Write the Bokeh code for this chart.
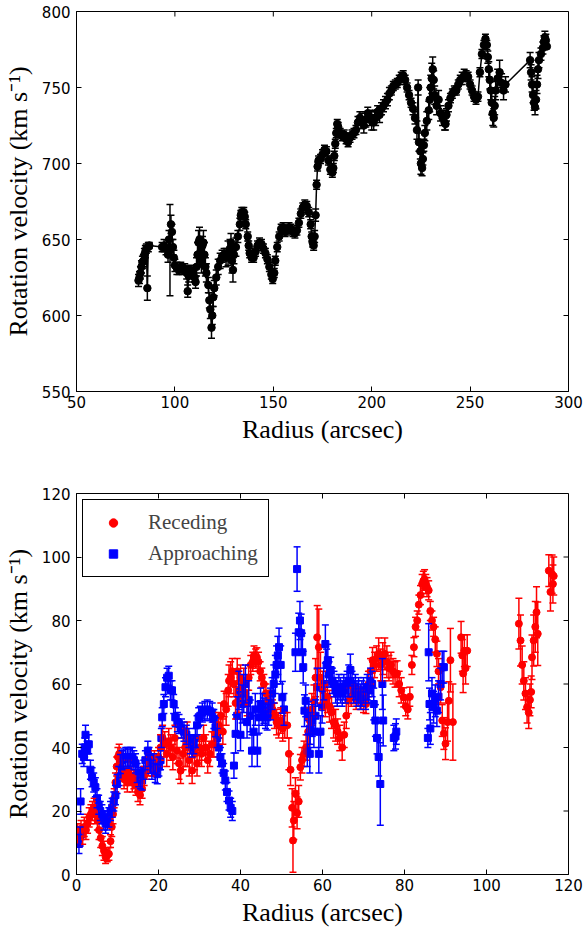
from bokeh.plotting import figure
from bokeh.models import (ColumnDataSource, Whisker, TeeHead, FixedTicker, Range1d, Legend, LegendItem)
from bokeh.layouts import column
from bokeh.embed import file_html
from bokeh.resources import INLINE

# ---------------- data: top panel ----------------
top_x = [81.5, 82, 82.5, 83, 83.5, 84, 84.5, 85, 85.5, 86, 86.5, 87,
         93.5, 94.5, 95.5, 96.5, 97, 97.5, 98, 98.5, 99, 99.5, 100, 101, 102, 103, 104, 105, 106,
         106.5, 107, 108, 109, 110, 110.5, 111, 111.5, 112, 112.5, 113, 113.5, 114, 114.5, 115,
         115.5, 116, 117, 117.5, 118, 118.6, 119, 119.5, 120, 121, 122, 123, 124, 125, 126, 127,
         128, 128.5, 129, 129.5, 130, 131, 132, 133, 133.5, 134, 135, 135.5, 136, 137, 137.5, 138,
         139, 140, 141, 142, 143, 144, 145, 146, 147, 148, 149, 149.7, 150.5, 151, 152, 153, 154,
         155, 156, 157, 158, 159, 160, 161, 162, 163, 164, 165, 166, 167, 168, 169, 169.5, 170,
         170.5, 171, 171.5, 172, 172.5, 173, 174, 175, 176, 177, 178, 179, 180, 180.5, 181, 181.5,
         182, 182.5, 183, 184, 185, 186, 187, 188, 189, 190, 191, 192, 193, 194, 195, 196, 197,
         198, 199, 200, 201, 202, 203, 204, 205, 206, 207, 208, 209, 210, 211, 212, 213, 214, 215,
         216, 217, 218, 219, 220, 221, 222, 223, 223.6, 224, 224.7, 225, 225.6, 226, 226.5, 227,
         228, 229, 229.5, 230, 230.5, 231, 231.5, 232, 233, 234, 235, 236, 237, 237.5, 238, 239,
         240, 241, 242, 243, 244, 245, 246, 247, 248, 249, 250, 251, 252, 253, 254, 255, 256, 257,
         257.8, 258.5, 259, 259.5, 260, 260.5, 261, 261.5, 262, 262.5, 263, 264, 265, 266, 267, 268,
         280.5, 281, 281.5, 282, 282.5, 283, 283.5, 284, 284.5, 285, 286, 287, 287.5, 288, 288.5, 289]
top_y = [623, 625, 628, 632, 635, 636, 640, 642, 644, 618, 645, 646,
         645, 646, 644, 640, 650, 643, 660, 655, 645, 638, 633, 631, 630, 632, 630, 631, 628,
         616, 626, 630, 628, 625, 622, 632, 640, 648, 650, 642, 636, 646, 648, 640,
         632, 628, 620, 610, 604, 592, 600, 612, 618, 625, 632, 636, 639, 640, 638, 641,
         644, 648, 636, 630, 640, 645, 652, 660, 666, 668, 668, 665, 660, 652, 646, 641,
         638, 638, 642, 646, 648, 647, 644, 641, 637, 632, 627, 624, 628, 636, 645, 652, 657,
         658, 655, 656, 658, 657, 655, 654, 656, 661, 667, 671, 673, 672, 668, 660, 652, 648,
         646, 652, 666, 686, 698, 702, 703, 706, 709, 708, 702, 696, 694, 697, 705, 713,
         720, 726, 724, 720, 718, 719, 716, 714, 717, 719, 720, 722, 727, 730, 728, 725, 729,
         733, 730, 728, 727, 730, 734, 732, 736, 738, 740, 742, 746, 748, 751, 752, 753, 755, 757,
         758, 755, 750, 745, 740, 736, 730, 722, 750, 714, 708, 700, 697, 703, 712, 720,
         728, 735, 742, 750, 756, 762, 755, 745, 738, 742, 733, 730, 727, 726, 732, 738,
         743, 746, 748, 748, 752, 755, 756, 758, 758, 757, 752, 748, 744, 742, 744, 760, 772, 778,
         782, 778, 770, 762, 755, 748, 740, 733, 730, 738, 748, 756, 760, 753, 748, 752,
         768, 760, 752, 745, 740, 737, 742, 752, 762, 768, 772, 776, 780, 783, 781, 777]
top_err = [4, 4, 4, 4, 4, 4, 4, 4, 3, 8, 3, 2,
           3, 4, 4, 5, 6, 30, 6, 5, 5, 5, 4, 4, 3, 3, 3, 3, 4,
           4, 4, 3, 3, 3, 4, 6, 8, 8, 8, 10, 8, 6, 8, 8,
           6, 6, 5, 5, 6, 7, 6, 6, 5, 5, 5, 5, 4, 4, 6, 8,
           6, 6, 8, 8, 6, 6, 4, 4, 3, 3, 3, 3, 3, 3, 3, 3,
           3, 3, 3, 3, 3, 3, 3, 3, 3, 3, 3, 3, 3, 3, 3, 3, 3,
           3, 3, 3, 3, 3, 3, 3, 3, 3, 3, 3, 3, 3, 3, 3, 3, 3,
           3, 4, 4, 3, 3, 3, 3, 3, 3, 3, 3, 3, 3, 3, 3, 3,
           3, 3, 3, 3, 3, 3, 3, 3, 3, 3, 3, 3, 4, 4, 5, 5, 5,
           4, 5, 6, 5, 5, 4, 5, 4, 4, 4, 4, 4, 3, 3, 3, 3, 3,
           3, 3, 3, 3, 3, 3, 4, 4, 6, 5, 6, 5, 7, 5, 4, 4,
           5, 6, 6, 8, 8, 10, 8, 6, 6, 6, 6, 5, 5, 5, 4, 4,
           4, 3, 3, 3, 3, 3, 3, 4, 4, 3, 3, 3, 3, 3, 3, 3, 3, 3,
           3, 3, 3, 4, 5, 6, 6, 8, 8, 6, 6, 6, 6, 8, 6, 6,
           5, 5, 5, 5, 5, 5, 5, 6, 6, 6, 5, 4, 4, 4, 4, 4]

top_xticks = [50, 100, 150, 200, 250, 300]
top_yticks = [550, 600, 650, 700, 750, 800]

# ---------------- data: bottom panel ----------------
rec_x = [0.3, 0.7, 1.1, 1.5, 1.9, 2.3, 2.7, 3.1, 3.5, 3.9, 4.3, 4.7, 5.1, 5.5, 5.9, 6.3, 6.7, 7.1,
         7.5, 7.9, 8.3, 8.6, 8.9, 9.2, 9.5, 9.8, 10.1, 10.4, 10.8, 11.2, 11.6, 12.0, 12.4, 12.8,
         13.2, 13.6, 14.0, 14.5, 15.0, 15.5, 16.0, 16.5, 17.0, 17.5, 18.0, 18.5, 19.0, 19.5, 20.0,
         20.5, 21.0, 21.5, 22.0, 22.5, 23.0, 23.5, 24.0, 24.5, 25.0, 25.4, 26.0, 26.5, 27.0, 27.5,
         28.2, 28.8, 29.4, 30.0, 30.5, 31.0, 31.5, 32.0, 32.5, 33.0, 33.5, 34.0, 34.7, 35.2, 35.7,
         36.0, 36.5, 37.0, 37.2, 37.6, 38.0, 38.4, 38.8, 39.2, 39.6, 40.0, 40.4, 40.8, 41.2, 41.6,
         42.0, 42.5, 43.0, 43.3, 43.7, 44.0, 44.4, 44.8, 45.2, 45.7, 46.2, 46.7, 47.3, 47.8, 48.3,
         48.8, 49.3, 49.8, 50.3, 50.8, 51.4, 51.8, 52.2, 52.6, 52.8, 53.0, 53.4, 53.8, 54.2, 54.6,
         55.0, 55.5, 56.0, 56.5, 56.9, 57.4, 57.9, 58.3, 58.7, 59.1, 59.5, 60.1, 60.7, 61.2, 61.7,
         62.2, 62.7, 63.2, 63.7, 64.2, 64.8, 65.3, 65.8, 66.3, 67.0, 67.6, 68.2, 68.8, 69.4, 70.0,
         70.6, 71.2, 71.7, 72.2, 72.7, 73.2, 73.7, 74.2, 74.7, 75.2, 75.7, 76.2, 76.7, 77.2, 77.7,
         78.2, 78.7, 79.2, 79.8, 80.3, 80.8, 81.3, 81.8, 82.3, 82.7, 83.1, 83.5, 83.9, 84.3, 84.6,
         84.9, 85.2, 85.5, 85.9, 86.3, 86.7, 87.1, 87.5, 87.9, 88.3, 88.8, 89.2, 89.6, 90.0, 90.5,
         90.8, 91.2, 91.8, 93.8, 94.1, 94.3, 94.6, 94.9, 95.3, 107.9, 108.3, 108.7, 109.1, 109.5,
         109.9, 110.3, 110.6, 110.9, 111.1, 111.5, 111.9, 112.2, 112.5, 115.2, 115.6, 116.0, 116.2,
         116.4]
rec_y = [13, 12, 14, 12.5, 15, 14, 16, 18, 19, 20, 21, 19, 17, 14, 11.5, 9, 7.5, 5.5,
         6, 6.5, 10.5, 15, 19, 24, 29, 34, 37, 38, 36, 33, 30, 31, 29, 33,
         31, 29, 30, 28, 26, 25, 27, 31, 33, 34, 35, 34, 36, 35, 37,
         40, 43, 41, 38, 42, 40, 37, 43, 39, 35, 32.7, 38, 40, 41, 36,
         32.7, 38, 35, 40, 38, 43, 40, 36, 38, 41, 41, 44, 47, 50, 45,
         53.7, 52, 58, 61, 62, 64, 60, 54, 64, 56, 62, 58, 61, 57, 54,
         62, 66, 67, 69, 68, 68.4, 67, 64, 62, 60, 57, 55, 53.7, 52, 50,
         48, 47, 48.5, 46, 47, 47, 38, 33, 21, 10.7, 17, 25.5, 19.4, 23, 33.8,
         36, 38, 40, 45, 48.5, 52, 54.7, 62, 74.7, 71.6, 62, 58, 54.7, 56, 53,
         51, 48, 47, 45, 43, 40, 44, 50, 54.7, 56, 56.8, 55, 56, 55, 54,
         53.7, 60, 64, 67.5, 66, 68, 69.5, 66, 68, 69.5, 67, 65, 66, 64, 63,
         63.3, 60, 58, 55.8, 53, 52, 56, 66, 71.6, 78, 80, 85, 88, 91.5, 92.5,
         93, 91.5, 90.5, 89.5, 83, 80, 78, 74, 69.5, 64, 59, 48.5, 44.4, 41.2, 48,
         54.7, 67.5, 48, 74.7, 69, 63.3, 70.5, 65, 70.5, 79, 73.7, 66, 61, 57,
         52.7, 51, 55, 57.5, 68.4, 73.7, 78, 82.6, 75.8, 95.7, 89, 94.6, 91.5,
         94]
rec_err = [3, 3, 3, 3, 3, 3, 3, 3, 3, 3, 3, 3, 3, 3, 3, 3, 3, 2,
           2, 2, 2, 3, 3, 3, 3, 3, 3, 3, 3, 3, 3, 3, 3, 3,
           3, 3, 3, 3, 3, 3, 3, 3, 3, 3, 3, 3, 3, 3, 3,
           4, 4, 4, 4, 4, 4, 4, 4, 4, 5, 4, 5, 6, 7, 5,
           4, 5, 4, 4, 4, 4, 4, 4, 4, 4, 4, 4, 4, 4, 4,
           4, 5, 5, 5, 5, 4, 4, 5, 4, 5, 4, 4, 4, 4, 4,
           4, 3, 3, 3, 3, 3, 3, 3, 3, 3, 3, 3, 3, 3, 4,
           4, 4, 4, 4, 4, 4, 5, 5, 6, 10, 6, 5, 5, 5, 4,
           4, 4, 4, 4, 4, 5, 5, 6, 10, 12, 8, 6, 5, 5, 5,
           5, 5, 5, 4, 4, 4, 4, 4, 4, 3, 3, 3, 3, 3, 3,
           3, 4, 4, 4, 4, 4, 5, 5, 5, 5, 5, 4, 4, 4, 4,
           4, 4, 4, 3, 3, 3, 3, 3, 3, 3, 3, 3, 3, 3, 3,
           3, 3, 3, 3, 3, 3, 3, 4, 4, 4, 5, 5, 5, 5, 6,
           6, 10, 12, 5, 5, 6, 5, 5, 5, 8, 8, 6, 6, 5,
           5, 5, 5, 5, 7, 8, 8, 8, 10, 5, 6, 6, 6,
           6]

app_x = [0.6, 0.9, 1.0, 1.4, 1.8, 2.0, 2.2, 2.6, 3.0, 3.4, 3.8, 4.2, 4.6, 5.0, 5.4, 5.8, 6.2, 6.7,
         7.1, 7.5, 7.9, 8.3, 8.7, 9.1, 9.5, 9.9, 10.3, 10.7, 11.1, 11.5, 12.0, 12.4, 12.8, 13.2,
         13.6, 14.0, 14.4, 14.8, 15.2, 15.6, 16.0, 16.4, 16.8, 17.4, 17.7, 18.0, 18.4, 18.8, 19.2,
         19.7, 20.1, 20.5, 20.7, 20.9, 21.3, 21.7, 22.1, 22.5, 22.9, 23.3, 23.7, 24.1, 24.6, 25.0,
         25.6, 26.2, 26.8, 27.4, 27.8, 28.2, 28.6, 29.0, 29.4, 29.8, 30.2, 30.7, 31.3, 31.9, 32.5,
         33.1, 33.5, 33.9, 34.3, 34.7, 35.1, 35.5, 35.9, 36.3, 36.7, 37.2, 37.6, 38.0, 38.4, 38.8,
         39.2, 39.6, 40.0, 40.4, 40.8, 41.2, 41.6, 42.0, 42.4, 42.8, 43.2, 43.6, 44.1, 44.5, 44.9,
         45.3, 45.7, 46.1, 46.5, 46.9, 47.3, 47.7, 48.1, 48.5, 48.8, 49.1, 49.4, 49.8, 50.2, 50.6,
         53.4, 53.8, 54.2, 54.5, 54.8, 55.1, 55.3, 55.6, 55.9, 56.3, 56.6, 56.9, 57.0, 57.5, 57.9,
         58.3, 58.7, 59.1, 59.5, 59.9, 60.3, 60.7, 61.0, 61.3, 61.6, 62.0, 62.4, 62.8, 63.2, 63.6,
         64.0, 64.4, 64.8, 65.2, 65.6, 66.0, 66.4, 66.8, 67.2, 67.6, 68.0, 68.4, 68.8, 69.2, 69.6,
         70.0, 70.5, 70.9, 71.3, 71.7, 72.1, 72.5, 72.9, 73.3, 73.7, 74.1, 74.6, 74.8, 77.4, 77.8,
         78.0, 85.7, 85.9, 86.1, 86.3, 86.7, 87.1, 87.5, 87.9, 88.3, 88.8, 89.2, 89.6]
app_y = [9.6, 12, 23, 38, 37, 40, 44, 39, 41, 33, 30.6, 29, 27.5, 24, 22, 20, 19, 17,
         16, 17, 18, 20, 21, 23, 25, 28.5, 31, 34.8, 36, 36.5, 37, 37, 36.5, 37,
         37, 36, 35, 32, 30.6, 30, 29.6, 33, 36, 39, 37, 34.8, 33, 35, 32,
         31.6, 34, 36, 43, 49.5, 53.7, 59, 62, 62.6, 58, 58, 53.7, 49.5, 48, 47.4,
         46, 45, 44, 43, 41, 40, 41, 43, 47, 49.5, 50, 51, 51.5, 52, 51.5,
         51, 49, 46.4, 43, 40, 37, 35, 32, 29.6, 26, 23.3, 21, 20, 34.3, 44.3,
         50, 58, 44, 53.7, 57, 60, 48, 55, 50, 39, 45, 52, 39, 49.5, 53.7,
         52, 51.6, 50, 49.5, 51, 53.7, 57, 60, 63, 66, 69, 71.6, 66, 55.8, 52,
         70, 96.2, 76.3, 80, 76, 70, 65.3, 51.6, 54.7, 39, 49.5, 38, 46, 48.5, 45,
         50, 59, 38, 45, 52.7, 60, 72.6, 66, 67.5, 63, 64.4, 61, 60, 58, 57,
         59, 58, 57, 59, 58, 60, 61, 64.4, 60, 58, 59, 57, 58, 56, 57,
         58, 56, 59, 58, 61, 60, 53.7, 48.5, 43, 37, 28.5, 60, 48.5, 43, 43.5,
         45, 43, 70, 53.7, 46, 57, 52.7, 54.7, 51.6, 56, 60, 65.3, 65.3]
app_err = [3, 3, 4, 3, 3, 3, 3, 3, 3, 3, 3, 3, 3, 3, 3, 3, 3, 3,
           3, 3, 3, 3, 3, 3, 3, 3, 3, 3, 3, 3, 3, 3, 3, 3,
           3, 3, 3, 3, 3, 3, 3, 3, 3, 3, 3, 3, 3, 3, 3,
           3, 3, 3, 3, 3, 3, 3, 3, 3, 3, 3, 3, 3, 3, 3,
           3, 3, 3, 3, 3, 3, 3, 3, 3, 3, 3, 3, 3, 3, 3,
           3, 3, 3, 3, 3, 3, 3, 3, 3, 3, 3, 3, 3, 4, 6,
           6, 6, 5, 6, 6, 6, 5, 6, 5, 5, 5, 5, 5, 5, 5,
           5, 4, 4, 4, 4, 5, 5, 6, 6, 6, 6, 6, 6, 5, 5,
           6, 7, 6, 6, 6, 6, 5, 5, 5, 5, 5, 6, 5, 5, 5,
           5, 6, 6, 5, 5, 5, 6, 5, 5, 4, 4, 4, 4, 4, 4,
           4, 4, 4, 4, 4, 4, 5, 5, 4, 4, 4, 4, 4, 4, 4,
           4, 4, 4, 4, 4, 4, 5, 5, 5, 6, 13, 8, 8, 4, 4,
           4, 3, 9, 5, 5, 5, 5, 5, 5, 5, 5, 5, 5]

bot_xticks = [0, 20, 40, 60, 80, 100, 120]
bot_yticks = [0, 20, 40, 60, 80, 100, 120]

series_labels = ["Receding", "Approaching"]

TICK_FONT = "DejaVu Sans"
LABEL_FONT = "Liberation Serif"
YLABEL = "Rotation velocity (km s\u207b\u00b9)"
XLABEL = "Radius (arcsec)"


def style(p, xticks, yticks):
    p.grid.visible = False
    p.outline_line_color = "black"
    p.outline_line_width = 1
    p.background_fill_color = "white"
    p.border_fill_color = "white"
    p.xaxis.axis_label = XLABEL
    p.yaxis.axis_label = YLABEL
    for ax in p.xaxis + p.yaxis:
        ax.major_tick_in = 5
        ax.major_tick_out = 0
        ax.minor_tick_in = 0
        ax.minor_tick_out = 0
        ax.axis_line_color = "black"
        ax.major_tick_line_color = "black"
        ax.major_label_text_font = TICK_FONT
        ax.major_label_text_font_size = "15px"
        ax.major_label_text_color = "black"
        ax.axis_label_text_font = LABEL_FONT
        ax.axis_label_text_font_size = "26px"
        ax.axis_label_text_font_style = "normal"
        ax.axis_label_text_color = "black"
    p.xaxis.ticker = FixedTicker(ticks=xticks)
    p.yaxis.ticker = FixedTicker(ticks=yticks)
    p.xaxis.major_label_standoff = 4
    p.yaxis.major_label_standoff = 6
    p.xaxis.axis_label_standoff = 4
    p.yaxis.axis_label_standoff = 6
    # mirrored inward ticks on the top and right edges of the frame
    xr, yr = p.x_range, p.y_range
    p.ray(x=xticks, y=[yr.end] * len(xticks), length=5, length_units="screen",
          angle=-90, angle_units="deg", line_color="black", line_width=1)
    p.ray(x=[xr.end] * len(yticks), y=yticks, length=5, length_units="screen",
          angle=180, angle_units="deg", line_color="black", line_width=1)


def add_errorbars(p, x, y, e, color):
    src = ColumnDataSource(dict(x=x, lower=[a - b for a, b in zip(y, e)],
                                upper=[a + b for a, b in zip(y, e)]))
    w = Whisker(base="x", lower="lower", upper="upper", source=src, dimension="height",
                line_color=color, line_width=1.5, level="glyph",
                upper_head=TeeHead(size=7, line_color=color, line_width=1.5),
                lower_head=TeeHead(size=7, line_color=color, line_width=1.5))
    p.add_layout(w)


# ---------------- top figure ----------------
p1 = figure(frame_width=492, frame_height=380, x_range=Range1d(50, 300), y_range=Range1d(550, 800),
            output_backend="svg", toolbar_location=None,
            min_border_left=76, min_border_right=19, min_border_top=11, min_border_bottom=72)
style(p1, top_xticks, top_yticks)
add_errorbars(p1, top_x, top_y, top_err, "black")
p1.line(top_x, top_y, line_color="black", line_width=1.5)
p1.scatter(top_x, top_y, marker="circle", size=7.5, fill_color="black", line_color="black")

# ---------------- bottom figure ----------------
p2 = figure(frame_width=492, frame_height=381, x_range=Range1d(0, 120), y_range=Range1d(0, 120),
            output_backend="svg", toolbar_location=None,
            min_border_left=76, min_border_right=19, min_border_top=30, min_border_bottom=53)
style(p2, bot_xticks, bot_yticks)
add_errorbars(p2, rec_x, rec_y, rec_err, "red")
r_rec = p2.scatter(rec_x, rec_y, marker="circle", size=7, fill_color="red", line_color="red")
add_errorbars(p2, app_x, app_y, app_err, "blue")
r_app = p2.scatter(app_x, app_y, marker="square", size=7, fill_color="blue", line_color="blue")

legend = Legend(items=[LegendItem(label=series_labels[0], renderers=[r_rec]),
                       LegendItem(label=series_labels[1], renderers=[r_app])],
                location="top_left", margin=6, padding=10, spacing=6,
                glyph_width=40, glyph_height=21, label_height=21, label_standoff=15,
                label_text_font=LABEL_FONT, label_text_font_size="21px",
                border_line_color="black", border_line_width=1, border_line_alpha=1,
                background_fill_color="white", background_fill_alpha=1)
p2.add_layout(legend)

layout = column(p1, p2, spacing=0)
open("out.html", "w").write(file_html(layout, INLINE))
